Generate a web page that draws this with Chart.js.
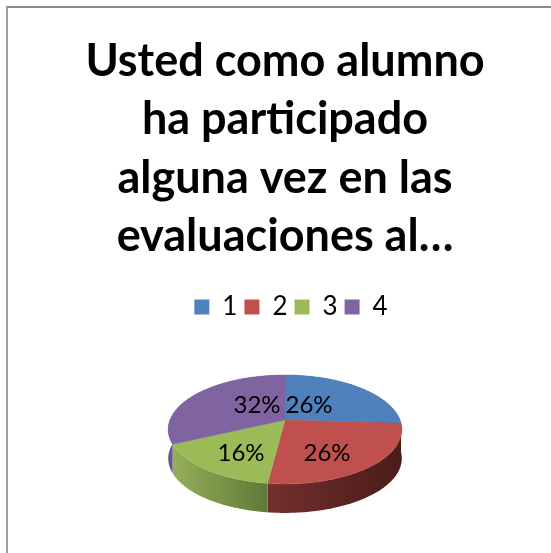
<!DOCTYPE html>
<html>
<head>
<meta charset="utf-8">
<script src="https://cdn.jsdelivr.net/npm/chart.js@4"></script>
<style>
    html, body { margin: 0; padding: 0; background: #fff; overflow: hidden; }
    #frame {
        position: absolute; left: 6px; top: 6px;
        width: 560px; height: 560px;
        border-left: 2px solid #a0a0a0;
        border-top: 2px solid #8c8c8c;
    }
</style>
</head>
<body>
<div id="frame"><canvas id="pieChart" width="554" height="545"></canvas></div>
<script>
const categories = ['1', '2', '3', '4'];
const shares = [26, 26, 16, 32];
const titleLines = ['Usted como alumno', 'ha participado', 'alguna vez en las', 'evaluaciones al…'];

const topColors = ['#4f81bd', '#c0504d', '#9bbb59', '#8064a2'];
// wall shading of each slice, left to right
const wallColors = [
    ['#2f4d72', '#2f4d72'],
    ['#732f2d', '#4a1c1b'],
    ['#95ae58', '#5f7a38'],
    ['#6c5490', '#6c5490']
];

// Fake the Excel 3D look: tilt the disc with a perspective map and add a wall under it
const DEPTH = 29;
const TILT = { a: 52.8, c: -0.174 };
const labelSpots = [[24, -15], [42, 33], [-44, 33], [-28, -15]];

function project(arc, r, angle) {
    const u = r * Math.cos(angle);
    const v = r * Math.sin(angle);
    const d = 1 + TILT.c * v;
    return { x: arc.x + arc.outerRadius * u / d, y: arc.y + TILT.a * v / d };
}

function rim(arc) {
    const pts = [];
    const steps = Math.ceil((arc.endAngle - arc.startAngle) * 60);
    for (let i = 0; i <= steps; i++) {
        pts.push(project(arc, 1, arc.startAngle + (arc.endAngle - arc.startAngle) * i / steps));
    }
    return pts;
}

const tiltedPie = {
    id: 'tiltedPie',
    afterLayout(chart) {
        // legend sits a little right of the title in the original
        chart.legend.left += 6;
        chart.legend.right += 6;
    },
    beforeDatasetsDraw(chart) {
        const ctx = chart.ctx;
        const arcs = chart.getDatasetMeta(0).data.map(el =>
            el.getProps(['x', 'y', 'startAngle', 'endAngle', 'outerRadius'], true));

        arcs.forEach((arc, i) => {
            const pts = rim(arc);
            const xs = pts.map(p => p.x);
            const grad = ctx.createLinearGradient(Math.min(...xs), 0, Math.max(...xs), 0);
            grad.addColorStop(0, wallColors[i][0]);
            grad.addColorStop(1, wallColors[i][1]);
            ctx.beginPath();
            pts.forEach((p, n) => n ? ctx.lineTo(p.x, p.y) : ctx.moveTo(p.x, p.y));
            pts.slice().reverse().forEach(p => ctx.lineTo(p.x, p.y + DEPTH));
            ctx.closePath();
            ctx.fillStyle = grad;
            ctx.fill();
        });

        arcs.forEach((arc, i) => {
            ctx.beginPath();
            ctx.moveTo(arc.x, arc.y);
            rim(arc).forEach(p => ctx.lineTo(p.x, p.y));
            ctx.closePath();
            ctx.fillStyle = topColors[i];
            ctx.strokeStyle = topColors[i];
            ctx.lineWidth = 0.5;
            ctx.fill();
            ctx.stroke();
        });

        ctx.fillStyle = '#000';
        ctx.font = '24px Lato';
        ctx.textAlign = 'center';
        ctx.textBaseline = 'middle';
        arcs.forEach((arc, i) => {
            ctx.fillText(shares[i] + '%', arc.x + labelSpots[i][0], arc.y + labelSpots[i][1]);
        });
        return false;
    }
};

new Chart(document.getElementById('pieChart'), {
    type: 'pie',
    data: {
        labels: categories,
        datasets: [{
            data: shares,
            backgroundColor: topColors,
            borderWidth: 0,
            radius: 115
        }]
    },
    options: {
        responsive: false,
        animation: false,
        layout: { padding: { top: 0, bottom: 43 } },
        plugins: {
            tooltip: { enabled: false },
            title: {
                display: true,
                text: titleLines,
                color: '#000',
                font: { family: 'Lato', size: 45, weight: 'bold', lineHeight: 1.3 },
                padding: { top: 24, bottom: 21 }
            },
            legend: {
                position: 'top',
                labels: {
                    boxWidth: 15,
                    boxHeight: 15,
                    color: '#000',
                    font: { family: 'Lato', size: 26 },
                    padding: 7
                }
            }
        }
    },
    plugins: [tiltedPie]
});
</script>
</body>
</html>
